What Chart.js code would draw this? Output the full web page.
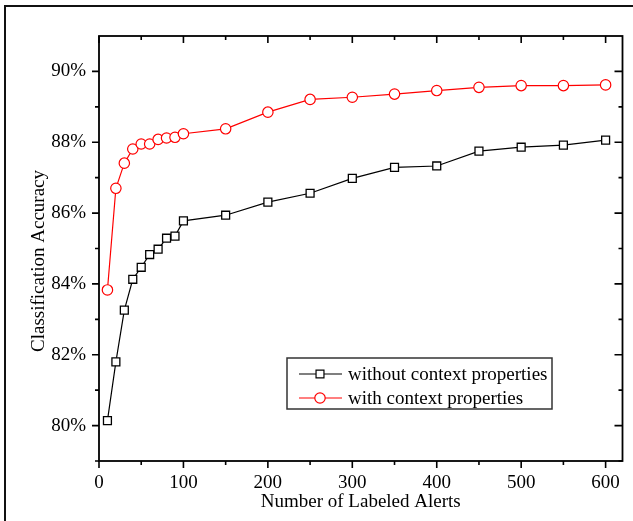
<!DOCTYPE html>
<html lang="en">
<head>
  <meta charset="utf-8">
  <title>Classification Accuracy</title>
  <script src="https://cdn.jsdelivr.net/npm/chart.js@4.4.1/dist/chart.umd.min.js"></script>
  <style>
    html, body { margin: 0; padding: 0; background: #fff; }
    #wrap { width: 633px; height: 521px; }
  </style>
</head>
<body>
  <div id="wrap"><canvas id="acc" width="633" height="521"></canvas></div>

  <script>
    // data
    var alerts = [10, 20, 30, 40, 50, 60, 70, 80, 90, 100, 150, 200, 250, 300, 350, 400, 450, 500, 550, 600];
    var withoutCtx = [80.14, 81.80, 83.26, 84.13, 84.47, 84.83, 84.98, 85.29, 85.35, 85.78, 85.94, 86.31, 86.56, 86.98, 87.29, 87.33, 87.75, 87.86, 87.92, 88.06];
    var withCtx = [83.83, 86.70, 87.41, 87.81, 87.95, 87.95, 88.08, 88.12, 88.14, 88.24, 88.38, 88.85, 89.21, 89.27, 89.36, 89.46, 89.55, 89.60, 89.60, 89.62];
    var xTicks = [0, 100, 200, 300, 400, 500, 600];
    var xMinor = [50, 150, 250, 350, 450, 550];
    var yTicks = [80, 82, 84, 86, 88, 90];
    var yMinor = [79, 81, 83, 85, 87, 89, 91];
    var seriesNames = ['without context properties', 'with context properties'];
    var yTitle = 'Classification Accuracy';

    var FONT = 'Liberation Serif, Times New Roman, serif';
    var FS = 19;

    function toPoints(ys) {
      return alerts.map(function (x, i) { return { x: x, y: ys[i] }; });
    }

    // outer frame, axis box, inward/outward ticks, y title and the boxed legend
    var decor = {
      id: 'decor',
      beforeDraw: function (chart) {
        var c = chart.ctx;
        c.save();
        c.fillStyle = '#fff';
        c.fillRect(0, 0, chart.width, chart.height);
        c.strokeStyle = '#111';
        c.lineWidth = 2;
        c.beginPath();
        c.moveTo(5, 521);
        c.lineTo(5, 6);
        c.lineTo(633, 6);
        c.stroke();
        c.restore();
      },
      afterDatasetsDraw: function (chart) {
        var c = chart.ctx, a = chart.chartArea;
        var sx = chart.scales.x, sy = chart.scales.y;
        c.save();
        c.strokeStyle = '#000';
        c.lineWidth = 1.8;
        c.strokeRect(a.left, a.top, a.right - a.left, a.bottom - a.top);

        c.lineWidth = 1.6;
        c.beginPath();
        xTicks.forEach(function (v) {
          var p = sx.getPixelForValue(v);
          c.moveTo(p, a.bottom); c.lineTo(p, a.bottom + 7);
          c.moveTo(p, a.top); c.lineTo(p, a.top + 7);
        });
        xMinor.forEach(function (v) {
          var p = sx.getPixelForValue(v);
          c.moveTo(p, a.bottom); c.lineTo(p, a.bottom + 4);
          c.moveTo(p, a.top); c.lineTo(p, a.top + 4);
        });
        yTicks.forEach(function (v) {
          var p = sy.getPixelForValue(v);
          c.moveTo(a.left, p); c.lineTo(a.left - 7, p);
          c.moveTo(a.right, p); c.lineTo(a.right - 8, p);
        });
        yMinor.forEach(function (v) {
          var p = sy.getPixelForValue(v);
          if (p <= a.top + 1) return;
          c.moveTo(a.left, p); c.lineTo(a.left - 4, p);
          c.moveTo(a.right, p); c.lineTo(a.right - 4, p);
        });
        c.stroke();

        // y axis title, sitting a little below the plot centre as in the original
        c.save();
        c.translate(39, 261);
        c.rotate(-Math.PI / 2);
        c.font = FS + 'px ' + FONT;
        c.fillStyle = '#000';
        c.textAlign = 'center';
        c.textBaseline = 'middle';
        c.fillText(yTitle, 0, 0);
        c.restore();

        // legend box
        var bx = 287, by = 358, bw = 265, bh = 51;
        c.fillStyle = '#fff';
        c.fillRect(bx, by, bw, bh);
        c.strokeStyle = '#333';
        c.lineWidth = 1.5;
        c.strokeRect(bx, by, bw, bh);
        c.font = FS + 'px ' + FONT;
        c.textBaseline = 'middle';
        c.textAlign = 'left';
        chart.data.datasets.forEach(function (ds, i) {
          var ry = by + 16 + i * 24;
          c.strokeStyle = ds.borderColor;
          c.lineWidth = 1.2;
          c.beginPath();
          c.moveTo(bx + 12, ry); c.lineTo(bx + 55, ry);
          c.stroke();
          c.fillStyle = '#fff';
          Chart.helpers.drawPoint(c, {
            pointStyle: ds.pointStyle, radius: ds.pointRadius,
            borderWidth: 1.2, rotation: 0
          }, bx + 33, ry);
          c.fillStyle = '#000';
          c.fillText(seriesNames[i], bx + 61, ry + 1);
        });
        c.restore();
      }
    };

    new Chart(document.getElementById('acc'), {
      type: 'line',
      data: {
        datasets: [
          {
            label: seriesNames[0],
            data: toPoints(withoutCtx),
            borderColor: '#000',
            backgroundColor: '#fff',
            borderWidth: 1.2,
            pointStyle: 'rect',
            pointRadius: 5.6,
            pointBorderWidth: 1.3,
            pointBackgroundColor: '#fff',
            pointBorderColor: '#000',
            tension: 0
          },
          {
            label: seriesNames[1],
            data: toPoints(withCtx),
            borderColor: '#ff0000',
            backgroundColor: '#fff',
            borderWidth: 1.2,
            pointStyle: 'circle',
            pointRadius: 5.2,
            pointBorderWidth: 1.2,
            pointBackgroundColor: '#fff',
            pointBorderColor: '#ff0000',
            tension: 0
          }
        ]
      },
      options: {
        responsive: false,
        animation: false,
        events: [],
        layout: { padding: { left: 0, top: 36, right: 10.5, bottom: 0 } },
        plugins: {
          legend: { display: false },
          tooltip: { enabled: false }
        },
        scales: {
          x: {
            type: 'linear',
            min: 0,
            max: 620,
            grid: { display: false, drawTicks: false },
            border: { display: false },
            afterBuildTicks: function (s) { s.ticks = xTicks.map(function (v) { return { value: v }; }); },
            afterFit: function (s) { s.height = 60; },
            ticks: {
              padding: 11,
              maxRotation: 0,
              color: '#000',
              font: { family: FONT, size: FS }
            },
            title: {
              display: true,
              text: 'Number of Labeled Alerts',
              color: '#000',
              font: { family: FONT, size: FS },
              padding: { top: 0, bottom: 8 }
            }
          },
          y: {
            min: 79,
            max: 91,
            grid: { display: false, drawTicks: false },
            border: { display: false },
            afterBuildTicks: function (s) { s.ticks = yTicks.map(function (v) { return { value: v }; }); },
            afterFit: function (s) { s.width = 99; },
            ticks: {
              padding: 13,
              color: '#000',
              font: { family: FONT, size: FS },
              callback: function (v) { return v + '%'; }
            }
          }
        }
      },
      plugins: [decor]
    });
  </script>
</body>
</html>
